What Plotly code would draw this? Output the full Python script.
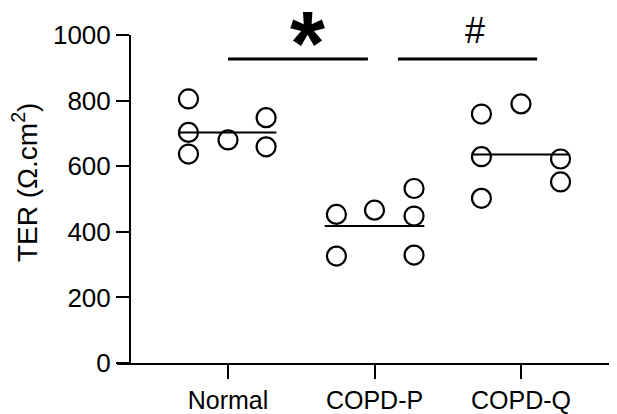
import plotly.graph_objects as go

categories = ["Normal", "COPD-P", "COPD-Q"]
normal_vals = [805, 703, 637, 680, 748, 659]
normal_offsets = [-0.27, -0.27, -0.27, 0.0, 0.26, 0.26]
copdp_vals = [453, 326, 466, 532, 448, 329]
copdp_offsets = [-0.26, -0.26, 0.0, 0.27, 0.27, 0.27]
copdq_vals = [759, 629, 502, 790, 622, 552]
copdq_offsets = [-0.27, -0.27, -0.27, 0.0, 0.27, 0.27]
center_lines = [703, 418, 636]
yticks = [0, 200, 400, 600, 800, 1000]

groups = [normal_vals, copdp_vals, copdq_vals]
offsets = [normal_offsets, copdp_offsets, copdq_offsets]

FONT = "Liberation Sans, Arial, sans-serif"
fig = go.Figure()

for i, (vals, offs) in enumerate(zip(groups, offsets)):
    fig.add_trace(go.Scatter(
        x=[i + o for o in offs], y=vals, mode="markers",
        marker=dict(symbol="circle-open", size=19, color="black", line=dict(width=2.2)),
        showlegend=False, cliponaxis=False))

line_half = [0.33, 0.34, 0.33]
for i, v in enumerate(center_lines):
    fig.add_trace(go.Scatter(
        x=[i - line_half[i], i + line_half[i]], y=[v, v], mode="lines",
        line=dict(color="black", width=2), showlegend=False))

# significance bars
fig.add_shape(type="line", x0=0, x1=0.955, y0=927, y1=927, xref="x", yref="y",
              line=dict(color="black", width=3))
fig.add_shape(type="line", x0=1.16, x1=2.11, y0=927, y1=927, xref="x", yref="y",
              line=dict(color="black", width=3))
fig.add_annotation(x=0.545, y=1.015, xref="x", yref="paper", text="<b>*</b>", showarrow=False,
                   yanchor="middle", yshift=-14, font=dict(family=FONT, size=90, color="black"))
fig.add_annotation(x=1.686, y=1.015, xref="x", yref="paper", text="#", showarrow=False,
                   yanchor="middle", font=dict(family=FONT, size=36, color="black"))
fig.add_annotation(x=-0.181, y=0.549, xref="paper", yref="paper", text="TER (Ω.cm<sup>2</sup>)",
                   textangle=-90, showarrow=False, xanchor="center", yanchor="middle",
                   font=dict(family=FONT, size=28, color="black"))

fig.update_layout(
    width=617, height=414,
    margin=dict(l=109, r=0, t=27, b=59),
    plot_bgcolor="white", paper_bgcolor="white",
    font=dict(family=FONT, size=26, color="black"),
    xaxis=dict(range=[-0.758, 2.71], tickvals=[0, 1, 2], ticktext=categories,
               showline=True, linecolor="black", linewidth=2, ticks="outside",
               ticklen=14, tickwidth=2, tickcolor="black", showgrid=False, zeroline=False,
               tickfont=dict(size=25)),
    yaxis=dict(range=[0, 1000], tickvals=yticks, anchor="free", position=0.0256,
               showline=True, linecolor="black", linewidth=2, ticks="outside",
               ticklen=13, tickwidth=2, tickcolor="black", showgrid=False, zeroline=False,
               tickfont=dict(size=26)),
)

fig.write_html("out.html")
